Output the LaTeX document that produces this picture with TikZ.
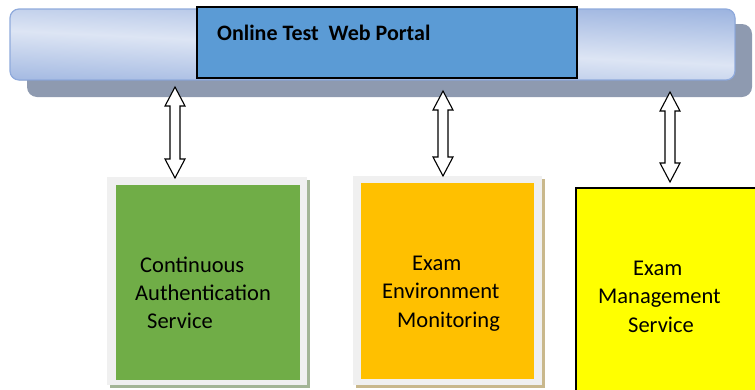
\documentclass[tikz,border=0pt]{standalone}
\usepackage{fontspec}
\setmainfont{Carlito}
\usetikzlibrary{calc,fit}
\definecolor{bandark}{HTML}{8EA9DB}
\definecolor{banlight}{HTML}{DDE5F4}
\definecolor{banedge}{HTML}{8FAADC}
\definecolor{banshadow}{HTML}{8E9AB0}
\definecolor{portalblue}{HTML}{5B9BD5}
\definecolor{framegray}{HTML}{F0F0F0}
\definecolor{greenfill}{HTML}{70AD47}
\definecolor{greenshadow}{HTML}{A3B596}
\definecolor{orangefill}{HTML}{FFC000}
\definecolor{orangeshadow}{HTML}{C9B88C}
\definecolor{yellowfill}{HTML}{FFFF00}
\tikzset{
  boxbase/.style={inner sep=0pt, outer sep=0pt},
  framebox/.style={boxbase, fill=framegray},
  hollow/.style={draw=black, line width=1.1pt, fill=white, line join=miter},
  linetext/.style={inner sep=0pt, anchor=base west, font=\fontsize{22.5}{27}\selectfont},
}
\newcommand\hollowarrow[2]{%
  \draw[hollow] (#1) -- ++(10,19) -- ++(-5,0) -- ($(#2)+(5,-19)$) -- ++(5,0) -- (#2)
    -- ++(-10,-19) -- ++(5,0) -- ($(#1)+(-5,19)$) -- ++(-5,0) -- cycle;}
\begin{document}
\begin{tikzpicture}[x=1pt,y=-1pt]
\useasboundingbox (0,0) rectangle (755,389);
% banner shadow
\node[boxbase, fill=banshadow, rounded corners=10pt, fit={(27,24) (752,97)}] (banshadow) {};
% banner gradient fill (tilted band)
\begin{scope}
  \clip[rounded corners=9pt] (10,9) rectangle (735,80);
  \fill[transform canvas={yslant=-0.048}, top color=bandark, bottom color=bandark,
        middle color=banlight] (0,-38) rectangle (760,98);
\end{scope}
\node[boxbase, rounded corners=9pt, draw=banedge, line width=1.2pt,
      fit={(10,9) (735,80)}] (banner) {};
\node[boxbase, fill=portalblue, draw=black, line width=1.2pt, fit={(197,7) (577,78)}] (portal) {};
\node[inner sep=0pt, anchor=base west] (title) at (217,40)
  {\fontsize{22}{26}\selectfont\bfseries Online Test\ \ Web Portal};
% green box
\node[boxbase, fill=greenshadow, fit={(110,180) (310,388)}] (gshadow) {};
\node[framebox, fit={(107,177) (307,385)}] (gframe) {};
\node[boxbase, fill=greenfill, fit={(116,185) (300,380)}] (green) {};
\node[linetext] (g1) at (140,272) {Continuous};
\node[linetext] (g2) at (135,300) {Authentication};
\node[linetext] (g3) at (147,328) {Service};
% orange box
\node[boxbase, fill=orangeshadow, fit={(356,179) (545,388)}] (oshadow) {};
\node[framebox, fit={(353,176) (542,385)}] (oframe) {};
\node[boxbase, fill=orangefill, fit={(361,183) (534,379)}] (orange) {};
\node[linetext] (o1) at (412,270) {Exam};
\node[linetext] (o2) at (382,298) {Environment};
\node[linetext] (o3) at (397,327) {Monitoring};
% yellow box
\node[boxbase, fill=yellowfill, draw=black, line width=1.4pt, fit={(576,188) (775,410)}] (yellow) {};
\node[linetext] (y1) at (633,275) {Exam};
\node[linetext] (y2) at (598,303) {Management};
\node[linetext] (y3) at (628,332) {Service};
% arrows
\coordinate (a1t) at (175,87);  \coordinate (a1b) at (175,178);
\coordinate (a2t) at (443,91);  \coordinate (a2b) at (443,176);
\coordinate (a3t) at (670,92);  \coordinate (a3b) at (670,182);
\hollowarrow{a1t}{a1b}
\hollowarrow{a2t}{a2b}
\hollowarrow{a3t}{a3b}
\end{tikzpicture}
\end{document}
